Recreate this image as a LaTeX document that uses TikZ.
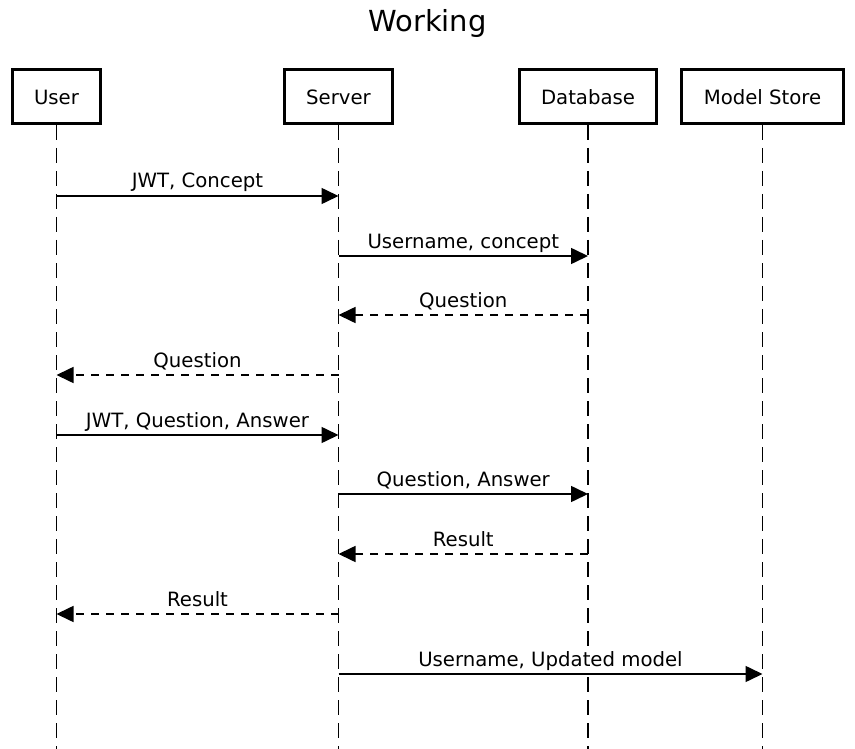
\documentclass[tikz,border=0pt]{standalone}
\usepackage{fontspec}
\setmainfont{DejaVu Sans}
\usetikzlibrary{arrows.meta}
\begin{document}
\begin{tikzpicture}[x=1pt,y=-1pt,
  actor/.style={draw, line width=3pt, minimum height=54pt, inner sep=0pt,
    text height=17pt, text depth=0pt, font=\fontsize{19.7}{22}\selectfont},
  lifeline/.style={line width=1.8pt, dash pattern=on 15pt off 8pt},
  msg/.style={line width=1.6pt, -{Triangle[length=17pt,width=16pt]}},
  reply/.style={msg, dash pattern=on 8pt off 7pt},
  lbl/.style={fill=white, inner xsep=2pt, inner ysep=3pt, anchor=base,
    yshift=8pt, font=\fontsize{19.7}{22}\selectfont}]
\useasboundingbox (0,0) rectangle (855,749);
\node[anchor=base, font=\fontsize{29}{34}\selectfont] (title) at (427.5,32) {Working};
\node[actor, minimum width=88pt]  (user)   at (56.5,96.5)  {User};
\node[actor, minimum width=108pt] (server) at (338.5,96.5) {Server};
\node[actor, minimum width=137pt] (db)     at (588,96.5)   {Database};
\node[actor, minimum width=162pt] (ms)     at (762.5,96.5) {Model Store};
\coordinate (bottom) at (0,752);
\draw[lifeline] (user.south)   -- (user |- bottom);
\draw[lifeline] (server.south) -- (server |- bottom);
\draw[lifeline] (db.south)     -- (db |- bottom);
\draw[lifeline] (ms.south)     -- (ms |- bottom);
\coordinate (m1) at (0,196);
\coordinate (m2) at (0,256);
\coordinate (m3) at (0,315);
\coordinate (m4) at (0,375);
\coordinate (m5) at (0,435);
\coordinate (m6) at (0,494);
\coordinate (m7) at (0,554);
\coordinate (m8) at (0,614);
\coordinate (m9) at (0,674);
\draw[msg]   (user |- m1)   -- node[lbl] {JWT, Concept} (server |- m1);
\draw[msg]   (server |- m2) -- node[lbl] {Username, concept} (db |- m2);
\draw[reply] (db |- m3)     -- node[lbl] {Question} (server |- m3);
\draw[reply] (server |- m4) -- node[lbl] {Question} (user |- m4);
\draw[msg]   (user |- m5)   -- node[lbl] {JWT, Question, Answer} (server |- m5);
\draw[msg]   (server |- m6) -- node[lbl] {Question, Answer} (db |- m6);
\draw[reply] (db |- m7)     -- node[lbl] {Result} (server |- m7);
\draw[reply] (server |- m8) -- node[lbl] {Result} (user |- m8);
\draw[msg]   (server |- m9) -- node[lbl] {Username, Updated model} (ms |- m9);
\end{tikzpicture}
\end{document}
